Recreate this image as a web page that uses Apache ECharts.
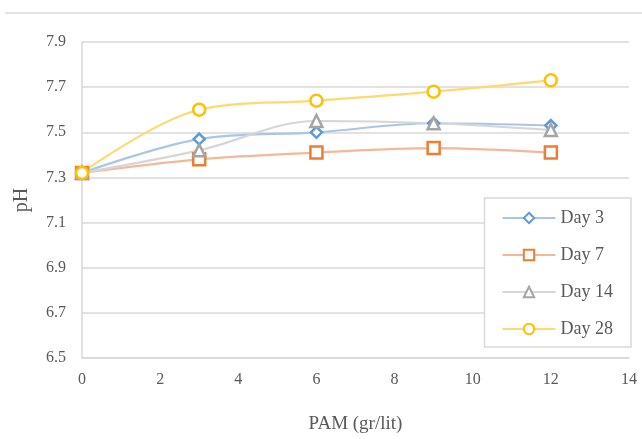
<!DOCTYPE html>
<html><head><meta charset="utf-8">
<script src="https://cdn.jsdelivr.net/npm/echarts@6/dist/echarts.min.js"></script>
<style>html,body{margin:0;padding:0;background:#fff;overflow:hidden}#c{width:642px;height:439px}</style>
</head><body><div id="c"></div>
<script>
var xValues = [0, 3, 6, 9, 12];
var day3 = [7.32, 7.47, 7.50, 7.54, 7.53];
var day7 = [7.32, 7.38, 7.41, 7.43, 7.41];
var day14 = [7.32, 7.42, 7.55, 7.54, 7.51];
var day28 = [7.32, 7.60, 7.64, 7.68, 7.73];
var seriesNames = ['Day 3', 'Day 7', 'Day 14', 'Day 28'];
var xAxisName = 'PAM (gr/lit)';
var yAxisName = 'pH';

function pts(ys){ return xValues.map(function(x,i){return [x, ys[i]];}); }
var font = '"Liberation Serif","Times New Roman",serif';
function mk(name, data, line, mark, symbol, size){
  return {
    name: name, type: 'line', data: pts(data), smooth: 0.35,
    symbol: symbol, symbolSize: size, showSymbol: true,
    lineStyle: {color: line, width: 2.2},
    itemStyle: {color: '#fff', borderColor: mark, borderWidth: 2.5},
    emphasis: {disabled: true}
  };
}
var chart = echarts.init(document.getElementById('c'), null, {renderer: 'canvas'});
chart.setOption({
  animation: false,
  textStyle: {fontFamily: font},
  grid: {left: 82, right: 13, top: 42, bottom: 77},
  xAxis: {
    type: 'value', min: 0, max: 14, interval: 2,
    name: xAxisName, nameLocation: 'middle', nameGap: 57,
    nameTextStyle: {fontFamily: font, fontSize: 19, color: '#595959'},
    axisLine: {show: true, lineStyle: {color: '#d9d9d9', width: 1.5}},
    axisTick: {show: false},
    splitLine: {show: false},
    axisLabel: {fontFamily: font, fontSize: 16, color: '#595959', margin: 14}
  },
  yAxis: {
    type: 'value', min: 6.5, max: 7.9, interval: 0.2,
    name: yAxisName, nameLocation: 'middle', nameGap: 50,
    nameTextStyle: {fontFamily: font, fontSize: 20, color: '#595959'},
    axisLine: {show: true, lineStyle: {color: '#d9d9d9', width: 1.5}},
    axisTick: {show: false},
    splitLine: {show: true, lineStyle: {color: '#d9d9d9', width: 1.5}},
    axisLabel: {fontFamily: font, fontSize: 16, color: '#595959', margin: 16,
      formatter: function(v){return v.toFixed(1);}}
  },
  legend: {
    orient: 'vertical', right: 11, top: 198,
    backgroundColor: '#fff',
    borderColor: '#d9d9d9', borderWidth: 1.5,
    padding: [11, 18, 9, 17],
    itemWidth: 53, itemHeight: 13, itemGap: 19,
    textStyle: {fontFamily: font, fontSize: 18, color: '#595959'},
    data: seriesNames
  },
  graphic: [{type: 'line', shape: {x1: 5, y1: 13, x2: 642, y2: 13},
    style: {stroke: '#d9d9d9', lineWidth: 1.5}}],
  series: [
    mk(seriesNames[0], day3, '#a9c6e8', '#5b9bd5', 'diamond', 11),
    mk(seriesNames[1], day7, '#f4b898', '#ed7d31', 'rect', 12),
    mk(seriesNames[2], day14, '#d6d6d6', '#a5a5a5', 'triangle', 12),
    mk(seriesNames[3], day28, '#ffd970', '#ffc000', 'circle', 12)
  ]
});
</script></body></html>
